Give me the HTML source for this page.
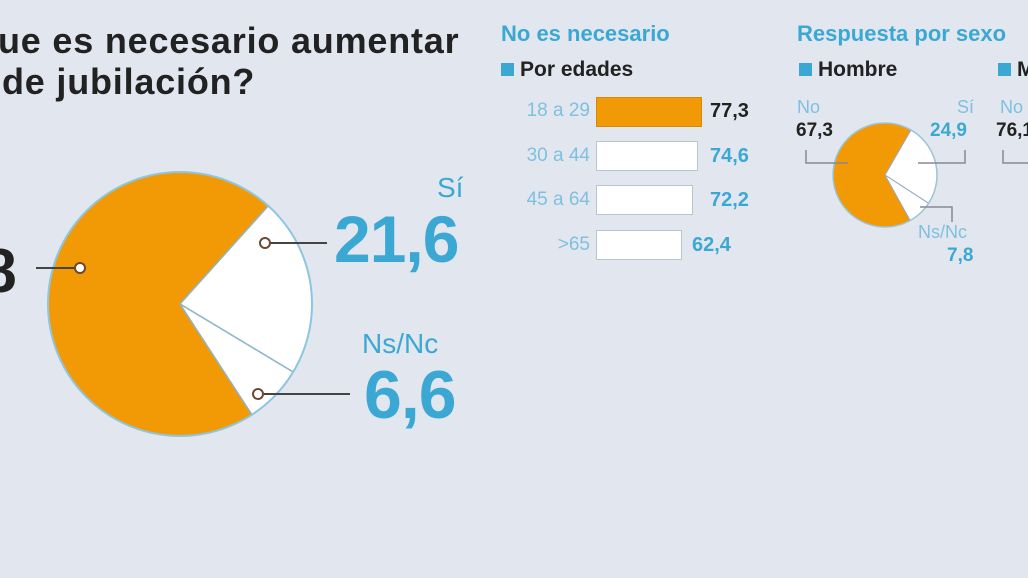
<!DOCTYPE html>
<html><head><meta charset="utf-8"><style>
body{margin:0;width:1028px;height:578px;overflow:hidden;background:#e2e7ef;font-family:"Liberation Sans",sans-serif;position:relative}
.a{position:absolute;white-space:nowrap}
.t{font-weight:bold;font-size:36px;color:#222;letter-spacing:0.8px}
.bl{color:#3ba8d4}
.lab{font-size:19px;color:#7fc0e0;text-align:right;width:85px;font-family:"Liberation Sans Narrow","Liberation Sans",sans-serif}
.val{font-size:20px;font-weight:bold;color:#3ba8d4;font-family:"Liberation Sans Narrow","Liberation Sans",sans-serif}
.bar{position:absolute;background:#fff;border:1px solid #b8c4cf;height:28px}
.sq{display:inline-block;width:13px;height:13px;background:#3ba8d4;margin-right:6px}
</style></head><body>
<div class="a t" style="left:-2px;top:20px">ue es necesario aumentar</div>
<div class="a t" style="left:2px;top:61px">de jubilación?</div>
<div class="a" style="left:-104px;top:236px;font-size:62px;font-weight:bold;color:#222">71,8</div>
<svg class="a" style="left:0;top:0" width="1028" height="578">
<path d="M180,304 L251.9,414.7 A132,132 0 1 1 268.3,205.9 Z" fill="#f29a05" stroke="#f29a05"/>
<path d="M180,304 L268.3,205.9 A132,132 0 0 1 293.1,372 Z" fill="#fff" stroke="#8fb4c8" stroke-width="1.5"/>
<path d="M180,304 L293.1,372 A132,132 0 0 1 251.9,414.7 Z" fill="#fff" stroke="#8fb4c8" stroke-width="1.5"/>
<circle cx="180" cy="304" r="132" fill="none" stroke="#8ec6e0" stroke-width="2"/>
<line x1="36" y1="268" x2="80" y2="268" stroke="#444" stroke-width="2"/>
<circle cx="80" cy="268" r="5" fill="#fff" stroke="#6a4a30" stroke-width="2"/>
<line x1="265" y1="243" x2="327" y2="243" stroke="#444" stroke-width="2"/>
<circle cx="265" cy="243" r="5" fill="#fff" stroke="#6a4a30" stroke-width="2"/>
<line x1="258" y1="394" x2="350" y2="394" stroke="#444" stroke-width="2"/>
<circle cx="258" cy="394" r="5" fill="#fff" stroke="#6a4a30" stroke-width="2"/>
<path d="M885,175 L910.2,220.5 A52,52 0 1 1 911,130 Z" fill="#f29a05"/>
<path d="M885,175 L911,130 A52,52 0 0 1 928.6,203.3 Z" fill="#fff" stroke="#9ab" stroke-width="1"/>
<path d="M885,175 L928.6,203.3 A52,52 0 0 1 910.2,220.5 Z" fill="#fff" stroke="#9ab" stroke-width="1"/>
<circle cx="885" cy="175" r="52" fill="none" stroke="#9cc4d8" stroke-width="1.5"/>
<polyline points="806,150 806,163 848,163" fill="none" stroke="#889" stroke-width="1.5"/>
<polyline points="965,150 965,163 918,163" fill="none" stroke="#889" stroke-width="1.5"/>
<polyline points="920,207 952,207 952,222" fill="none" stroke="#889" stroke-width="1.5"/>
<polyline points="1003,150 1003,163 1028,163" fill="none" stroke="#889" stroke-width="1.5"/>
</svg>
<div class="a bl" style="left:437px;top:172px;font-size:28px">Sí</div>
<div class="a bl" style="left:334px;top:201px;font-size:66px;font-weight:bold;letter-spacing:-1px">21,6</div>
<div class="a bl" style="left:362px;top:328px;font-size:28px">Ns/Nc</div>
<div class="a bl" style="left:364px;top:356px;font-size:68px;font-weight:bold;letter-spacing:-1px">6,6</div>

<div class="a bl" style="left:501px;top:21px;font-size:22px;font-weight:bold">No es necesario</div>
<div class="a" style="left:501px;top:58px;font-size:21px;font-weight:bold;color:#222"><span class="sq"></span>Por edades</div>
<div class="a lab" style="left:505px;top:100px">18 a 29</div>
<div class="a lab" style="left:505px;top:145px">30 a 44</div>
<div class="a lab" style="left:505px;top:189px">45 a 64</div>
<div class="a lab" style="left:505px;top:234px">&gt;65</div>
<div class="bar" style="left:596px;top:97px;width:104px;background:#f29a05;border-color:#d88a05"></div>
<div class="bar" style="left:596px;top:141px;width:100px"></div>
<div class="bar" style="left:596px;top:185px;width:95px"></div>
<div class="bar" style="left:596px;top:230px;width:84px"></div>
<div class="a val" style="left:710px;top:100px;color:#222">77,3</div>
<div class="a val" style="left:710px;top:145px">74,6</div>
<div class="a val" style="left:710px;top:189px">72,2</div>
<div class="a val" style="left:692px;top:234px">62,4</div>

<div class="a bl" style="left:797px;top:21px;font-size:22px;font-weight:bold">Respuesta por sexo</div>
<div class="a" style="left:799px;top:58px;font-size:21px;font-weight:bold;color:#222"><span class="sq"></span>Hombre</div>
<div class="a" style="left:998px;top:58px;font-size:21px;font-weight:bold;color:#222"><span class="sq"></span>Mujer</div>
<div class="a" style="left:797px;top:97px;font-size:18px;color:#7fc0e0">No</div>
<div class="a val" style="left:796px;top:120px;color:#222;font-size:19px">67,3</div>
<div class="a" style="left:957px;top:97px;font-size:18px;color:#7fc0e0">Sí</div>
<div class="a val" style="left:930px;top:120px;font-size:19px">24,9</div>
<div class="a" style="left:918px;top:222px;font-size:18px;color:#7fc0e0">Ns/Nc</div>
<div class="a val" style="left:947px;top:245px;font-size:19px">7,8</div>
<div class="a" style="left:1000px;top:97px;font-size:18px;color:#7fc0e0">No</div>
<div class="a val" style="left:996px;top:120px;color:#222;font-size:19px">76,1</div>
</body></html>
